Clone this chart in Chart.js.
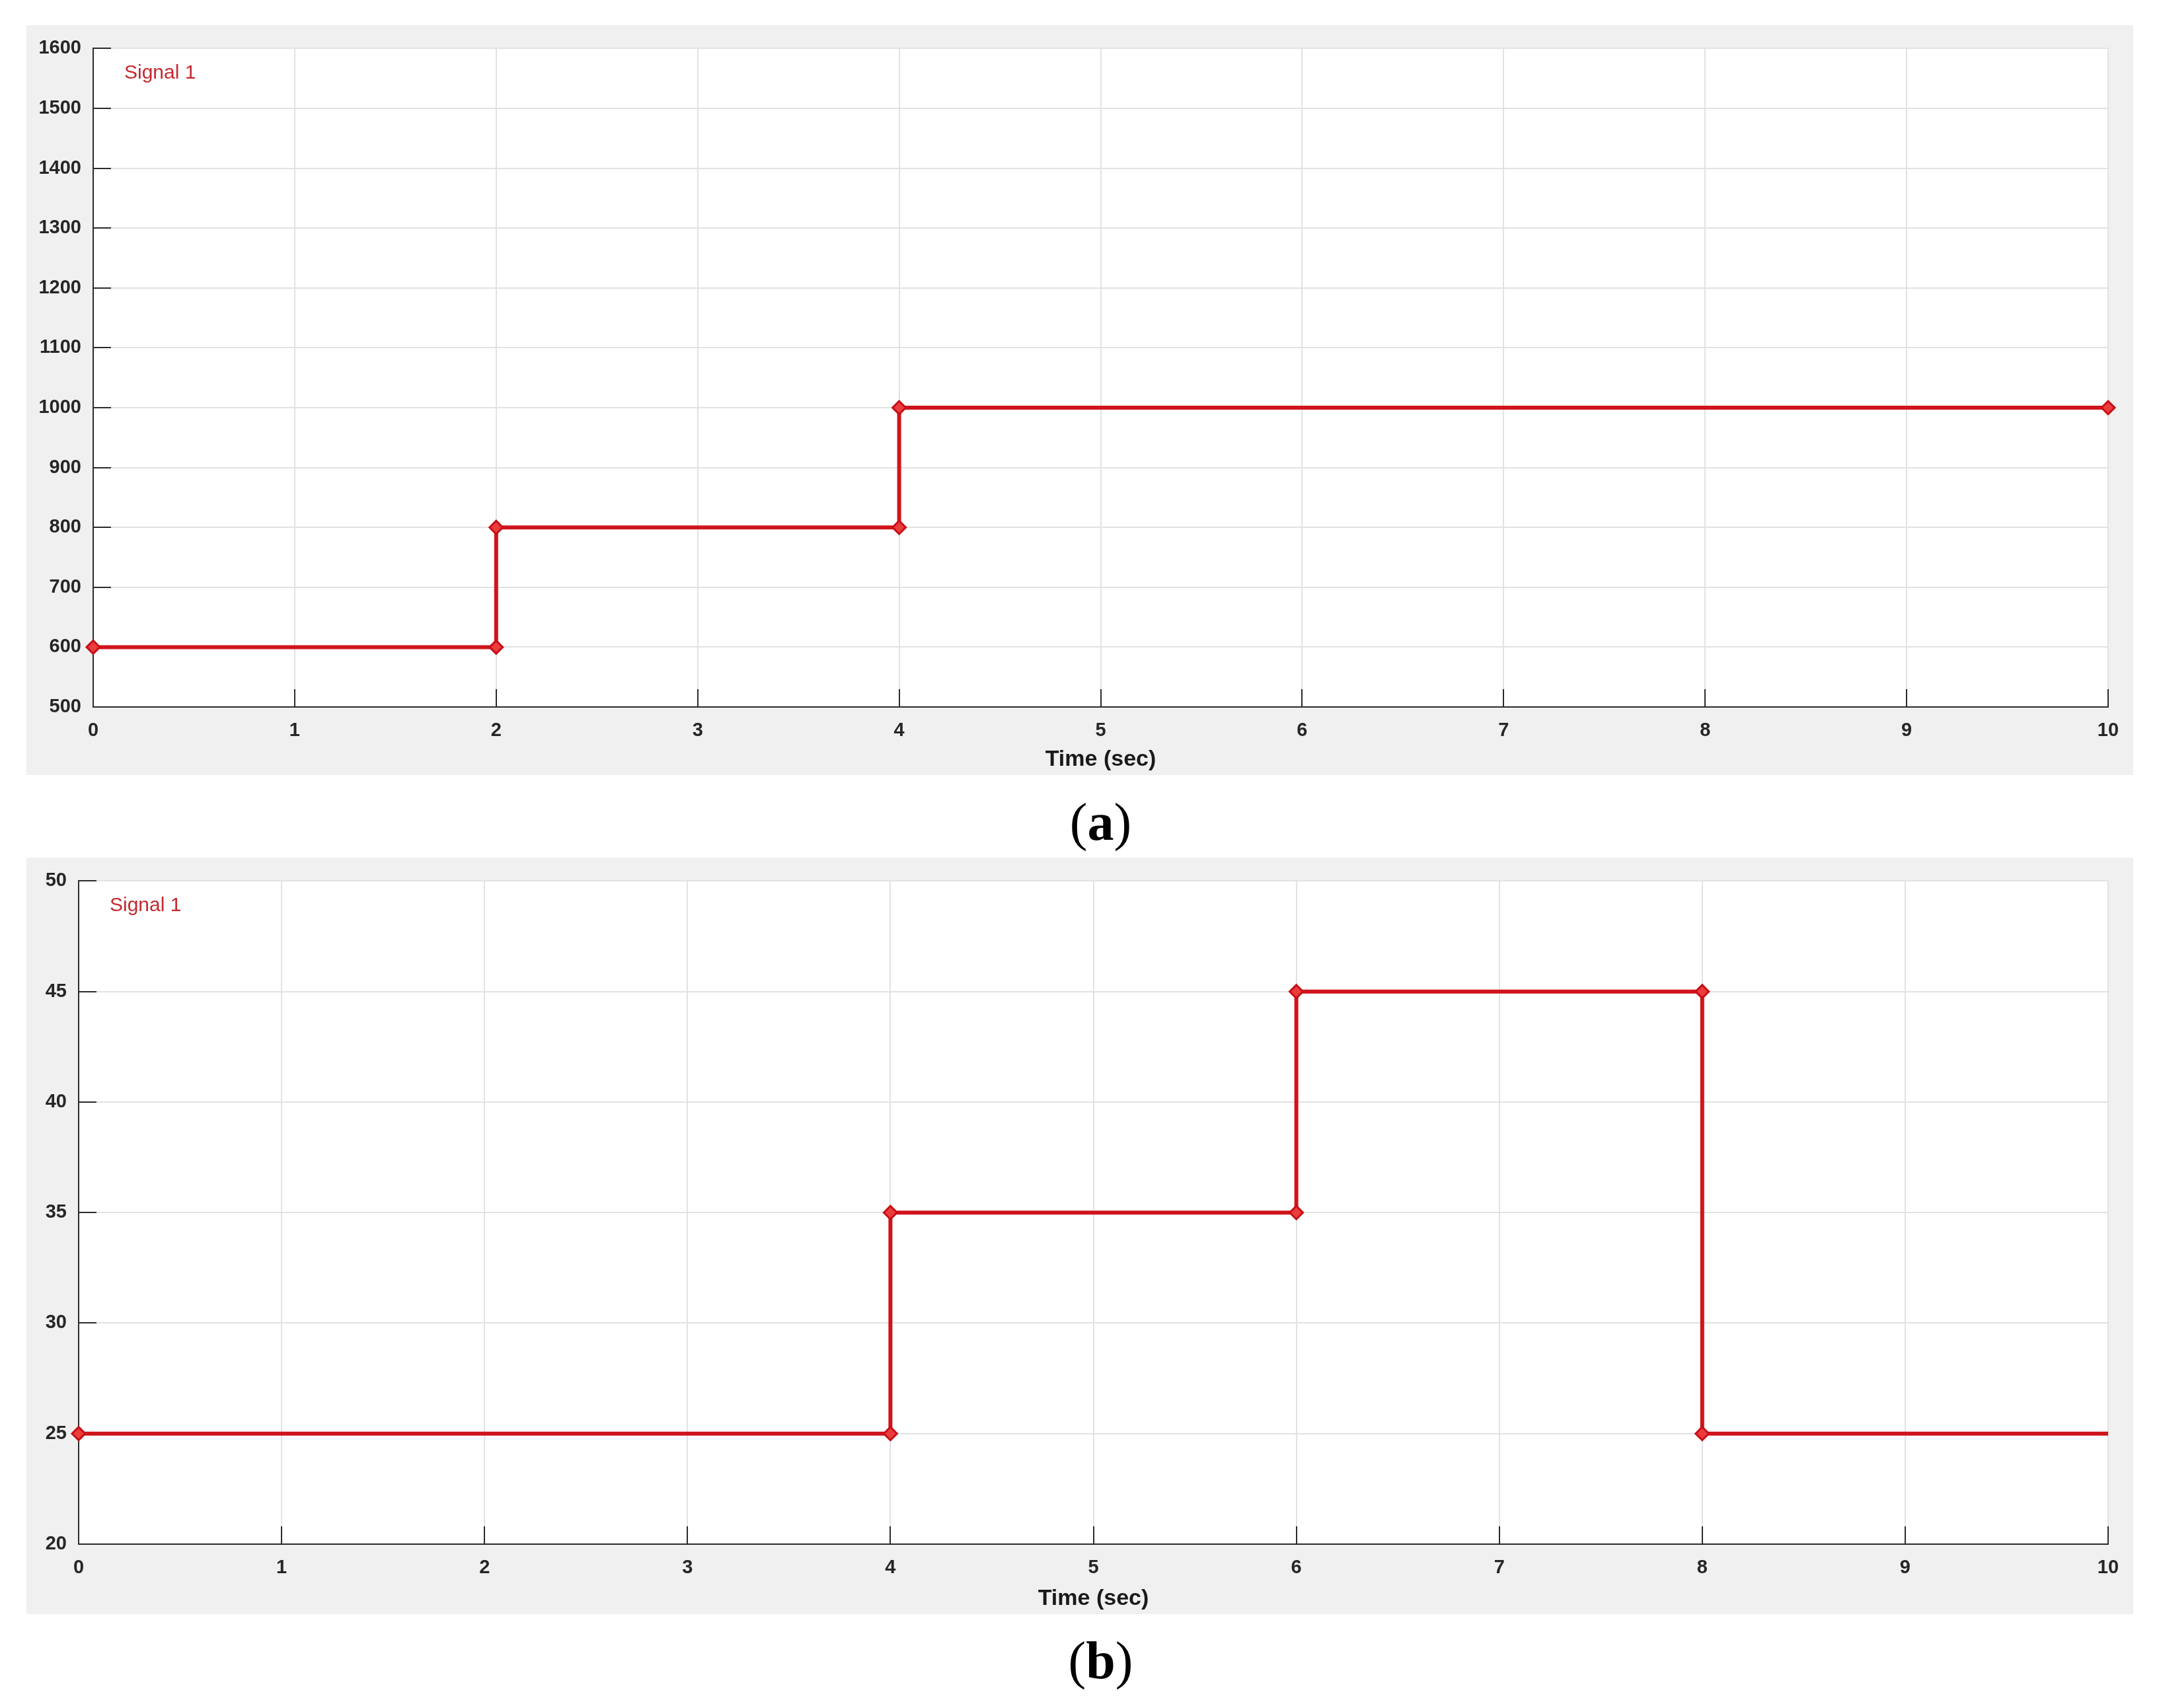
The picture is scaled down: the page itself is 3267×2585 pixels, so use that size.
<!DOCTYPE html>
<html>
<head>
<meta charset="utf-8">
<script src="https://cdn.jsdelivr.net/npm/chart.js@4.4.1/dist/chart.umd.min.js"></script>
<style>
  body { margin: 0; background: #fff; width: 3267px; height: 2585px; position: relative; overflow: hidden; }
  .panel { position: absolute; left: 40px; width: 3188px; background: #f0f0f0; }
  #panelA { top: 38px; height: 1135px; }
  #panelB { top: 1298px; height: 1145px; }
  .caption { position: absolute; left: 141px; width: 3049px; text-align: center;
    font-family: "Liberation Serif", serif; font-size: 80px; line-height: 80px; color: #000; }
</style>
</head>
<body>
<div class="panel" id="panelA"><canvas id="chartA"></canvas></div>
<div class="caption" style="top:1204px">(<b>a</b>)</div>
<div class="panel" id="panelB"><canvas id="chartB"></canvas></div>
<div class="caption" style="top:2473px">(<b>b</b>)</div>
<script>
// time axis (sec) and tick labels
const timeTicks = [0, 1, 2, 3, 4, 5, 6, 7, 8, 9, 10];

// (a) signal breakpoints
const timeA = [0, 2, 2, 4, 4, 10];
const signalA = [600, 600, 800, 800, 1000, 1000];
const yTicksA = [500, 600, 700, 800, 900, 1000, 1100, 1200, 1300, 1400, 1500, 1600];

// (b) signal breakpoints
const timeB = [0, 4, 4, 6, 6, 8, 8, 10];
const signalB = [25, 25, 35, 35, 45, 45, 25, 25];
const yTicksB = [20, 25, 30, 35, 40, 45, 50];

Chart.defaults.font.family = '"Liberation Sans", Arial, sans-serif';

const red = '#d0141c';
const axisColor = '#2b2b2b';
const tickFont = { size: 29, weight: 'bold' };

// white plot area, inward ticks and the "Signal 1" label
const panelPlugin = {
  id: 'panel',
  beforeDraw(chart) {
    const { ctx, chartArea: a } = chart;
    ctx.save();
    ctx.fillStyle = '#fff';
    ctx.fillRect(a.left, a.top, a.right - a.left, a.bottom - a.top);
    ctx.restore();
  },
  beforeDatasetsDraw(chart) {
    const { ctx, chartArea: a, scales } = chart;
    ctx.save();
    ctx.strokeStyle = axisColor;
    ctx.lineWidth = 2;
    ctx.beginPath();
    scales.x.ticks.forEach(t => {
      const px = Math.round(scales.x.getPixelForValue(t.value));
      ctx.moveTo(px, a.bottom);
      ctx.lineTo(px, a.bottom - 27);
    });
    scales.y.ticks.forEach(t => {
      const py = Math.round(scales.y.getPixelForValue(t.value));
      ctx.moveTo(a.left, py);
      ctx.lineTo(a.left + 27, py);
    });
    ctx.stroke();
    ctx.restore();
  },
  afterDraw(chart) {
    const { ctx, chartArea: a } = chart;
    ctx.save();
    ctx.font = '30px "Liberation Sans", Arial, sans-serif';
    ctx.fillStyle = '#c42a30';
    ctx.textBaseline = 'middle';
    ctx.fillText(chart.data.datasets[0].label, a.left + 47, a.top + 37);
    ctx.restore();
  }
};

function makeChart(id, xs, ys, yTicks, yWidth, xHeight, lastMarker) {
  const n = xs.length;
  return new Chart(document.getElementById(id), {
    type: 'line',
    data: {
      datasets: [{
        label: 'Signal 1',
        data: xs.map((x, i) => ({ x: x, y: ys[i] })),
        borderColor: red,
        borderWidth: 6,
        tension: 0,
        clip: false,
        pointStyle: 'rectRot',
        pointRadius: c => (!lastMarker && c.dataIndex === n - 1) ? 0 : 10,
        pointBorderWidth: 3,
        pointBackgroundColor: '#ea3c3c',
        pointBorderColor: '#c80f16'
      }]
    },
    options: {
      responsive: true,
      maintainAspectRatio: false,
      animation: false,
      layout: { padding: { top: 30, right: 38, left: 0, bottom: 0 } },
      plugins: { legend: { display: false }, tooltip: { enabled: false } },
      scales: {
        x: {
          type: 'linear',
          min: timeTicks[0],
          max: timeTicks[timeTicks.length - 1],
          afterBuildTicks: s => { s.ticks = timeTicks.map(v => ({ value: v })); },
          afterFit: s => { s.height = xHeight; },
          grid: { color: '#e2e2e2', lineWidth: 2, drawTicks: false },
          border: { color: axisColor, width: 2 },
          ticks: { font: tickFont, color: '#262626', padding: 19, maxRotation: 0, callback: v => String(v) },
          title: {
            display: true, text: 'Time (sec)', color: '#1a1a1a',
            font: { size: 34, weight: 'bold' }, padding: { top: 0, bottom: 3 }
          }
        },
        y: {
          min: yTicks[0],
          max: yTicks[yTicks.length - 1],
          afterBuildTicks: s => { s.ticks = yTicks.map(v => ({ value: v })); },
          afterFit: s => { s.width = yWidth; },
          grid: { color: '#e2e2e2', lineWidth: 2, drawTicks: false },
          border: { color: axisColor, width: 2 },
          ticks: { font: tickFont, color: '#262626', padding: 18, callback: v => String(v) }
        }
      }
    },
    plugins: [panelPlugin]
  });
}

makeChart('chartA', timeA, signalA, yTicksA, 101, 103, true);
makeChart('chartB', timeB, signalB, yTicksB, 79, 106, false);
</script>
</body>
</html>
